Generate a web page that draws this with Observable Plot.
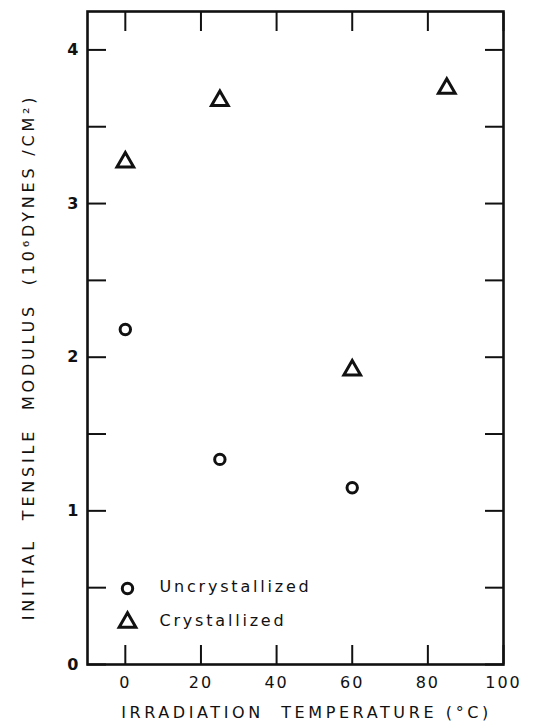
<!DOCTYPE html>
<html>
<head>
<meta charset="utf-8">
<script src="https://cdn.jsdelivr.net/npm/d3@7"></script>
<script src="https://cdn.jsdelivr.net/npm/@observablehq/plot@0.6"></script>
<style>
  html, body { margin: 0; padding: 0; background: #fff; }
  #chart svg { display: block; }
</style>
</head>
<body>
<div id="chart"></div>
<script>
// Irradiation temperature (°C) for each measured sample
const uncrystTemp = [0, 25, 60];
const uncrystModulus = [2.18, 1.335, 1.15];
const crystTemp = [0, 25, 60, 85];
const crystModulus = [3.27, 3.67, 1.915, 3.75];

const xTicks = [0, 20, 40, 60, 80, 100];
const yTicks = [0, 0.5, 1, 1.5, 2, 2.5, 3, 3.5, 4];
const yTickLabels = ["0", "", "1", "", "2", "", "3", "", "4"];

const legendLabels = ["Uncrystallized", "Crystallized"];
const legendSymbols = ["circle", "triangle"];

const xTitle = "IRRADIATION\u00a0\u00a0TEMPERATURE\u00a0(°C)";
const yTitle = "INITIAL\u00a0\u00a0TENSILE\u00a0\u00a0MODULUS\u00a0\u00a0(10⁶DYNES\u00a0/CM²)";

const uncryst = uncrystTemp.map((t, i) => ({temp: t, modulus: uncrystModulus[i]}));
const cryst = crystTemp.map((t, i) => ({temp: t, modulus: crystModulus[i]}));

const font = "'DejaVu Sans', 'Open Sans', sans-serif";
const ink = "#111";
const circleR = 5.2;
const triangleR = 6.2;

const legendMarks = legendLabels.flatMap((label, i) => [
  Plot.dot([label], {
    frameAnchor: "bottom-left", dx: 40, dy: -76 + i * 34,
    symbol: legendSymbols[i], r: legendSymbols[i] === "circle" ? circleR : triangleR,
    stroke: ink, strokeWidth: 3, fill: "none"
  }),
  Plot.text([label], {
    frameAnchor: "bottom-left", dx: 72, dy: -73 + i * 34,
    text: d => d, textAnchor: "start", fontSize: 16, fill: ink
  })
]);

const chart = Plot.plot({
  width: 535,
  height: 725,
  marginLeft: 87,
  marginRight: 32,
  marginTop: 11,
  marginBottom: 61,
  style: {fontFamily: font, color: ink, background: "#fff", letterSpacing: "2px"},
  x: {domain: [-10, 100]},
  y: {domain: [0, 4.25]},
  marks: [
    Plot.axisX({anchor: "bottom", ticks: xTicks, tickSize: -19, tickPadding: 31,
      fontSize: 16, strokeWidth: 2, label: null}),
    Plot.axisX({anchor: "top", ticks: xTicks, tickSize: -19, tickFormat: () => "",
      strokeWidth: 2, label: null}),
    Plot.axisY({anchor: "left", ticks: yTicks, tickSize: -19, tickPadding: 26,
      tickFormat: d => yTickLabels[yTicks.indexOf(d)], fontSize: 16, fontWeight: "bold",
      strokeWidth: 2, label: null}),
    Plot.axisY({anchor: "right", ticks: yTicks, tickSize: -19, tickFormat: () => "",
      strokeWidth: 2, label: null}),
    Plot.frame({stroke: ink, strokeWidth: 2.6}),
    Plot.dot(uncryst, {x: "temp", y: "modulus", symbol: "circle", r: circleR,
      stroke: ink, strokeWidth: 3, fill: "none"}),
    Plot.dot(cryst, {x: "temp", y: "modulus", symbol: "triangle", r: triangleR,
      stroke: ink, strokeWidth: 3, fill: "none"}),
    ...legendMarks,
    Plot.text([xTitle], {frameAnchor: "bottom", dx: 11, dy: 53, text: d => d,
      fontSize: 16, fill: ink}),
    Plot.text([yTitle], {frameAnchor: "left", textAnchor: "middle", dx: -59, dy: 19,
      rotate: -90, text: d => d, fontSize: 16, fill: ink})
  ]
});

// wider tracking for the axis titles and legend entries
const spacing = new Map([[xTitle, "3.6px"], [yTitle, "3.8px"],
  [legendLabels[0], "2.8px"], [legendLabels[1], "2.8px"]]);
d3.select(chart).selectAll("text")
  .filter(function () { return spacing.has(this.textContent); })
  .style("letter-spacing", function () { return spacing.get(this.textContent); });

document.getElementById("chart").appendChild(chart);
</script>
</body>
</html>
